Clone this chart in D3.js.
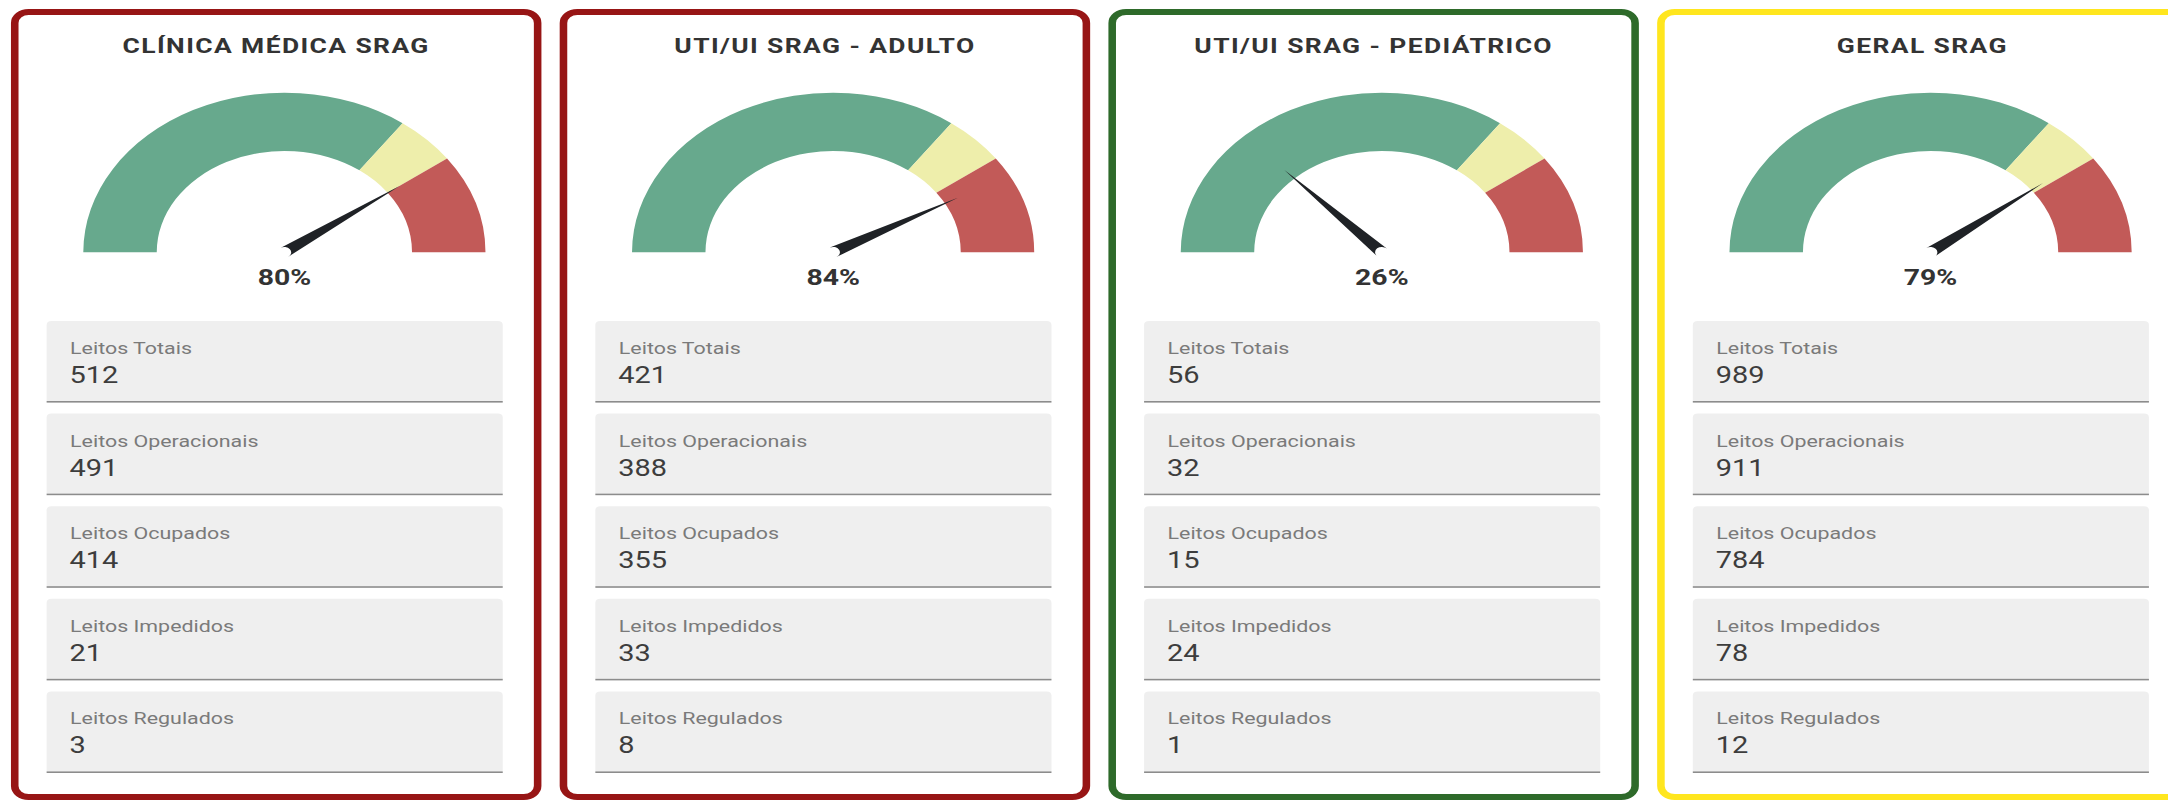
<!DOCTYPE html>
<html>
<head>
<meta charset="utf-8">
<script src="https://cdn.jsdelivr.net/npm/d3@7"></script>
<style>
  html, body { margin: 0; padding: 0; background: #ffffff; }
  svg { display: block; }
</style>
</head>
<body>
<div id="chart"></div>
<script>
// ---------------- DATA ----------------
const titles = ["CLÍNICA MÉDICA SRAG", "UTI/UI SRAG - ADULTO", "UTI/UI SRAG - PEDIÁTRICO", "GERAL SRAG"];
const percents = [80, 84, 26, 79];
const statLabels = ["Leitos Totais", "Leitos Operacionais", "Leitos Ocupados", "Leitos Impedidos", "Leitos Regulados"];
const leitosTotais = [512, 421, 56, 989];
const leitosOperacionais = [491, 388, 32, 911];
const leitosOcupados = [414, 355, 15, 784];
const leitosImpedidos = [21, 33, 24, 78];
const leitosRegulados = [3, 8, 1, 12];
const bandStops = [0, 70, 80, 100];
const bandColors = ["#67a98d", "#eeeeab", "#c25a58"];
const borderColors = ["#971515", "#971515", "#2e6a2a", "#ffe61e"];

// ---------------- LAYOUT ----------------
const W = 2168, H = 809;
const SX = 1.26;               // horizontal stretch of the reference
const cardW = 421, cardTop = 9, cardH = 791, sw = 6;
const R_OUT = 159.6, R_IN = 101.3, gaugeY = 252.3, needleLen = 113, needleHalf = 5.4;

const statValues = [leitosTotais, leitosOperacionais, leitosOcupados, leitosImpedidos, leitosRegulados];

const svg = d3.select("#chart").append("svg")
  .attr("width", W).attr("height", H)
  .attr("viewBox", `0 0 ${W} ${H}`);

const root = svg.append("g").attr("transform", `scale(${SX},1)`);

const cardX = d3.scaleLinear().domain([0, 1]).range([8.7, 444.2]);
const angle = d3.scaleLinear().domain([0, 100]).range([-Math.PI / 2, Math.PI / 2]);
const boxY = d3.scaleLinear().domain([0, 1]).range([321, 413.6]);
const boxX0 = 28.3, boxW = 362, boxH = 80;

const cards = root.selectAll("g.card")
  .data(titles.map((t, i) => ({ i, title: t, pct: percents[i] })))
  .join("g")
  .attr("class", "card")
  .attr("transform", d => `translate(${cardX(d.i)},0)`);

cards.append("rect")
  .attr("x", sw / 2).attr("y", cardTop + sw / 2)
  .attr("width", cardW - sw).attr("height", cardH - sw)
  .attr("rx", 11).attr("ry", 11)
  .attr("fill", "#ffffff")
  .attr("stroke", d => borderColors[d.i])
  .attr("stroke-width", sw);

cards.append("text")
  .attr("x", cardW / 2).attr("y", 53.5)
  .attr("text-anchor", "middle")
  .style("font-family", "Roboto, 'Noto Sans', sans-serif")
  .style("font-weight", 700)
  .style("font-size", "21px")
  .style("letter-spacing", "1.1px")
  .attr("fill", "#333333")
  .text(d => d.title);

// gauge
const gauge = cards.append("g")
  .attr("transform", `translate(${cardW / 2 + 6.5},${gaugeY})`);

const arc = d3.arc().innerRadius(R_IN).outerRadius(R_OUT);
gauge.selectAll("path.band")
  .data(bandColors.map((c, k) => ({ c, s: bandStops[k], e: bandStops[k + 1] })))
  .join("path")
  .attr("class", "band")
  .attr("d", b => arc({ startAngle: angle(b.s), endAngle: angle(b.e) }))
  .attr("fill", b => b.c);

gauge.append("path")
  .attr("d", d => {
    const t = angle(d.pct);
    const ux = Math.sin(t), uy = -Math.cos(t);   // direction
    const px = -uy, py = ux;                     // perpendicular
    const tip = [ux * needleLen, uy * needleLen];
    const b1 = [px * needleHalf, py * needleHalf];
    const b2 = [-px * needleHalf, -py * needleHalf];
    return `M${b1[0]},${b1[1]} L${tip[0]},${tip[1]} L${b2[0]},${b2[1]} A${needleHalf},${needleHalf} 0 0 1 ${b1[0]},${b1[1]} Z`;
  })
  .attr("fill", "#1f2226");

gauge.append("text")
  .attr("x", 0).attr("y", 33)
  .attr("text-anchor", "middle")
  .style("font-family", "Roboto, 'Noto Sans', sans-serif")
  .style("font-weight", 700)
  .style("font-size", "22.5px")
  .attr("fill", "#333333")
  .text(d => d.pct + "%");

// stat boxes
const boxes = cards.selectAll("g.box")
  .data(d => statLabels.map((lab, k) => ({ lab, k, v: statValues[k][d.i] })))
  .join("g")
  .attr("class", "box")
  .attr("transform", b => `translate(${boxX0},${boxY(b.k)})`);

boxes.append("path")
  .attr("d", `M0,${boxH} L0,4 Q0,0 4,0 L${boxW - 4},0 Q${boxW},0 ${boxW},4 L${boxW},${boxH} Z`)
  .attr("fill", "#efefef");

boxes.append("rect")
  .attr("x", 0).attr("y", boxH).attr("width", boxW).attr("height", 1.6)
  .attr("fill", "#8c8c8c");

boxes.append("text")
  .attr("x", 18.6).attr("y", 33)
  .style("font-family", "Roboto, 'Noto Sans', sans-serif")
  .style("font-size", "17px")
  .attr("fill", "#7a7a7a")
  .text(b => b.lab);

boxes.append("text")
  .attr("x", 18.2).attr("y", 62)
  .style("font-family", "Roboto, 'Noto Sans', sans-serif")
  .style("font-size", "23px")
  .attr("fill", "#3d3d3d")
  .text(b => b.v);
</script>
</body>
</html>
